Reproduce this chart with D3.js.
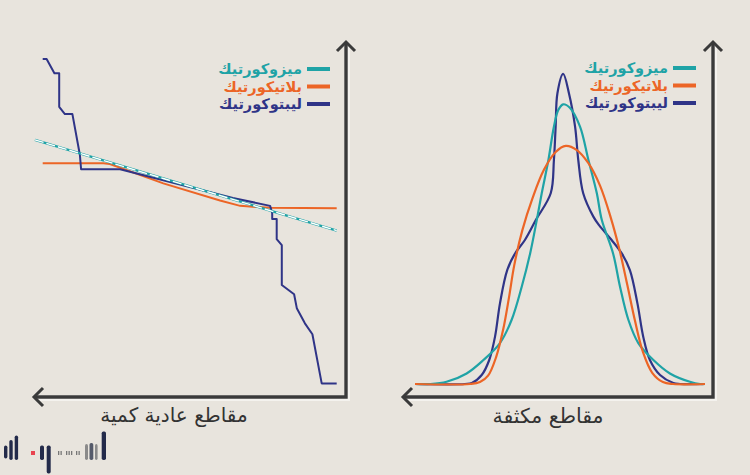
<!DOCTYPE html>
<html>
<head>
<meta charset="utf-8">
<script src="https://cdn.jsdelivr.net/npm/d3@7"></script>
<style>
  body { margin: 0; background: #e8e4dd; }
  svg { display: block; }
</style>
</head>
<body>
<div id="chart"></div>
<script>
// ---------------- data ----------------
var seriesNames = ["ميزوكورتيك", "بلاتيكورتيك", "ليبتوكورتيك"];
var seriesColors = ["#1fa3a6", "#ec6526", "#2f3487"];
var axisLabels = ["مقاطع عادية كمية", "مقاطع مكثفة"];

// left panel (normal quantile sections)
var leftMeso = [[-1.7, 75.8], [41.1, 64.1], [98.9, 48.3]];
var leftPlaty = [[0.9, 68.7], [21.1, 68.7], [23.3, 68.5], [41.1, 62.6], [60, 57.4],
                 [66.7, 55.8], [76.7, 55.2], [98.9, 55.1]];
var leftLepto = [[0.9, 100.3], [2.2, 100.3], [4.8, 96.0], [6.4, 96.0], [6.4, 85.8],
                 [8.3, 83.6], [10.8, 83.6], [13.3, 71.2], [13.7, 66.9], [26.7, 66.9],
                 [64.3, 58.2], [76.7, 55.8], [77.4, 53.6], [77.4, 51.8], [78.9, 51.8],
                 [78.9, 45.7], [80.6, 43.9], [80.6, 31.8], [84.7, 29.0], [85.6, 24.8],
                 [88.3, 20.2], [90.8, 16.9], [93.9, 2.0], [98.9, 2.0]];

// right panel (density sections)
var rightMeso = [[-50, 0], [-44.8, 0], [-39.1, 0.7], [-32.2, 3.3], [-26.4, 7.5], [-20.7, 12.8],
                 [-16.7, 20], [-13.2, 30.4], [-10.3, 40.8], [-8.0, 51.3], [-6.3, 59.6],
                 [-4.0, 70], [-2.1, 80.4], [-0.6, 85.6], [1.1, 87.4], [3.4, 86.3],
                 [6.9, 80.4], [9.8, 70], [12.7, 59.6], [14.4, 51.3], [18.3, 40.8],
                 [20.7, 30.4], [23.6, 20], [27.0, 12.8], [32.2, 7.5], [37.9, 3.3],
                 [44.8, 0.7], [48.3, 0], [50, 0]];
var rightPlaty = [[-50, 0], [-31.0, 0], [-27.6, 0.6], [-24.8, 2.6], [-22.0, 8.5], [-19.6, 17],
                  [-17.6, 27], [-15.8, 37], [-13.0, 48], [-9.5, 58], [-5.5, 67],
                  [-1.5, 72.5], [2.0, 74.4], [5.8, 73.1], [9.8, 69], [13.8, 62],
                  [17.5, 52], [20.5, 42], [23.2, 31], [25.8, 20], [28.6, 10],
                  [31.8, 3.5], [35.5, 0.6], [39.0, 0], [50, 0]];
var rightLepto = [[-50, 0], [-32.8, 0], [-30.4, 0.3], [-27.0, 2.8], [-24.4, 7.5], [-22.4, 14.8],
                  [-20.7, 25.2], [-18.2, 35.6], [-15.5, 40.8], [-12.1, 45], [-8.3, 51.3],
                  [-3.2, 59.6], [-2.1, 70], [-1.5, 80.4], [-0.9, 90.8], [1.1, 96.9],
                  [3.1, 90.8], [5.2, 80.4], [6.3, 70], [8.0, 59.6], [11.5, 52.3],
                  [13.4, 49.7], [17.8, 45], [21.3, 40.8], [24.1, 35.6], [26.7, 25.2],
                  [28.7, 14.8], [31.0, 7.5], [34.5, 2.8], [39.1, 0.3], [41.4, 0], [50, 0]];

// ---------------- setup ----------------
var W = 750, H = 475;
var svg = d3.select("#chart").append("svg")
    .attr("width", W).attr("height", H);

svg.append("rect").attr("width", W).attr("height", H).attr("fill", "#e8e4dd");

var xL = d3.scaleLinear().domain([0, 100]).range([40, 340]);
var yL = d3.scaleLinear().domain([0, 100]).range([390, 60]);
var xR = d3.scaleLinear().domain([-50, 50]).range([415, 705]);
var yR = d3.scaleLinear().domain([0, 100]).range([384, 64]);

var axisColor = "#3a3a3a";

// frame axes with arrow heads
function drawAxes(xv, yTop, yBase, xLeft) {
  var g = svg.append("g");
  var d = "M" + xv + "," + (yTop + 1) + " L" + xv + "," + yBase + " L" + (xLeft + 1) + "," + yBase;
  g.append("path").attr("d", d).attr("fill", "none")
    .attr("stroke", "#ffffff").attr("stroke-width", 6).attr("opacity", 0.5)
    .attr("transform", "translate(1,1)");
  g.append("path").attr("d", d).attr("fill", "none")
    .attr("stroke", axisColor).attr("stroke-width", 3.4).attr("stroke-linejoin", "miter");
  // arrows
  g.append("path")
    .attr("d", "M" + (xv - 9) + "," + (yTop + 9) + " L" + xv + "," + yTop + " L" + (xv + 9) + "," + (yTop + 9))
    .attr("fill", "none").attr("stroke", axisColor).attr("stroke-width", 3);
  g.append("path")
    .attr("d", "M" + (xLeft + 9) + "," + (yBase - 9) + " L" + xLeft + "," + yBase + " L" + (xLeft + 9) + "," + (yBase + 9))
    .attr("fill", "none").attr("stroke", axisColor).attr("stroke-width", 3);
}
drawAxes(346, 42, 397, 34);
drawAxes(713, 42, 397, 403);

// ---------------- left panel ----------------
var lineL = d3.line().x(function(d) { return xL(d[0]); }).y(function(d) { return yL(d[1]); });

svg.append("path").datum(leftPlaty).attr("d", lineL)
  .attr("fill", "none").attr("stroke", seriesColors[1]).attr("stroke-width", 2);
svg.append("path").datum(leftLepto).attr("d", lineL)
  .attr("fill", "none").attr("stroke", seriesColors[2]).attr("stroke-width", 2)
  .attr("stroke-linejoin", "round");
svg.append("path").datum(leftMeso).attr("d", lineL)
  .attr("fill", "none").attr("stroke", seriesColors[0]).attr("stroke-width", 2.4);
svg.append("path").datum(leftMeso).attr("d", lineL)
  .attr("fill", "none").attr("stroke", "#ffffff").attr("stroke-width", 1.4)
  .attr("stroke-dasharray", "9,3");

// ---------------- right panel ----------------
var lineR = d3.line().x(function(d) { return xR(d[0]); }).y(function(d) { return yR(d[1]); })
  .curve(d3.curveCatmullRom.alpha(0.5));

[rightLepto, rightMeso, rightPlaty].forEach(function(s, i) {
  var c = [seriesColors[2], seriesColors[0], seriesColors[1]][i];
  svg.append("path").datum(s).attr("d", lineR)
    .attr("fill", "none").attr("stroke", c).attr("stroke-width", 2.2);
});

// ---------------- legends ----------------
function legend(xText, yTop) {
  var g = svg.append("g");
  seriesNames.forEach(function(n, i) {
    var y = yTop + i * 17.5;
    g.append("line").attr("x1", xText + 5).attr("x2", xText + 28)
      .attr("y1", y).attr("y2", y)
      .attr("stroke", seriesColors[i]).attr("stroke-width", 4);
    g.append("text").attr("x", xText).attr("y", y + 5)
      .attr("text-anchor", "end")
      .attr("font-family", "DejaVu Sans, sans-serif")
      .attr("font-weight", "bold").attr("font-size", 14.5)
      .attr("fill", seriesColors[i]).text(n);
  });
}
legend(302, 69);
legend(668, 68);

// ---------------- axis titles ----------------
svg.append("text").attr("x", 174).attr("y", 422).attr("text-anchor", "middle")
  .attr("font-family", "DejaVu Sans, sans-serif").attr("font-size", 20)
  .attr("fill", "#333").text(axisLabels[0]);
svg.append("text").attr("x", 548).attr("y", 423).attr("text-anchor", "middle")
  .attr("font-family", "DejaVu Sans, sans-serif").attr("font-size", 20.5)
  .attr("fill", "#333").text(axisLabels[1]);

// ---------------- logo ----------------
var logo = svg.append("g");
var logoBars = [
  [4, 445.5, 3.4, 13, "#232a4a"], [9.3, 440, 3.4, 20, "#232a4a"], [14.7, 435.5, 3.4, 24.5, "#232a4a"],
  [40, 445.5, 4, 14.5, "#232a4a"], [46.7, 445.5, 4, 28, "#232a4a"],
  [85, 444, 3, 16, "#8a8a8a"], [89.5, 443, 3.8, 17, "#555a6a"], [95, 444, 2.6, 16, "#8a8a8a"],
  [101.7, 431.5, 4.3, 28.5, "#232a4a"]
];
logoBars.forEach(function(b) {
  logo.append("rect").attr("x", b[0]).attr("y", b[1]).attr("width", b[2]).attr("height", b[3])
    .attr("rx", 1.7).attr("fill", b[4]);
});
logo.append("rect").attr("x", 31).attr("y", 451).attr("width", 4).attr("height", 4).attr("fill", "#e8434f");
[58, 60.5, 66, 68.5, 71, 76, 78.5].forEach(function(x) {
  logo.append("rect").attr("x", x).attr("y", 451).attr("width", 1.3).attr("height", 4).attr("fill", "#777");
});
</script>
</body>
</html>
